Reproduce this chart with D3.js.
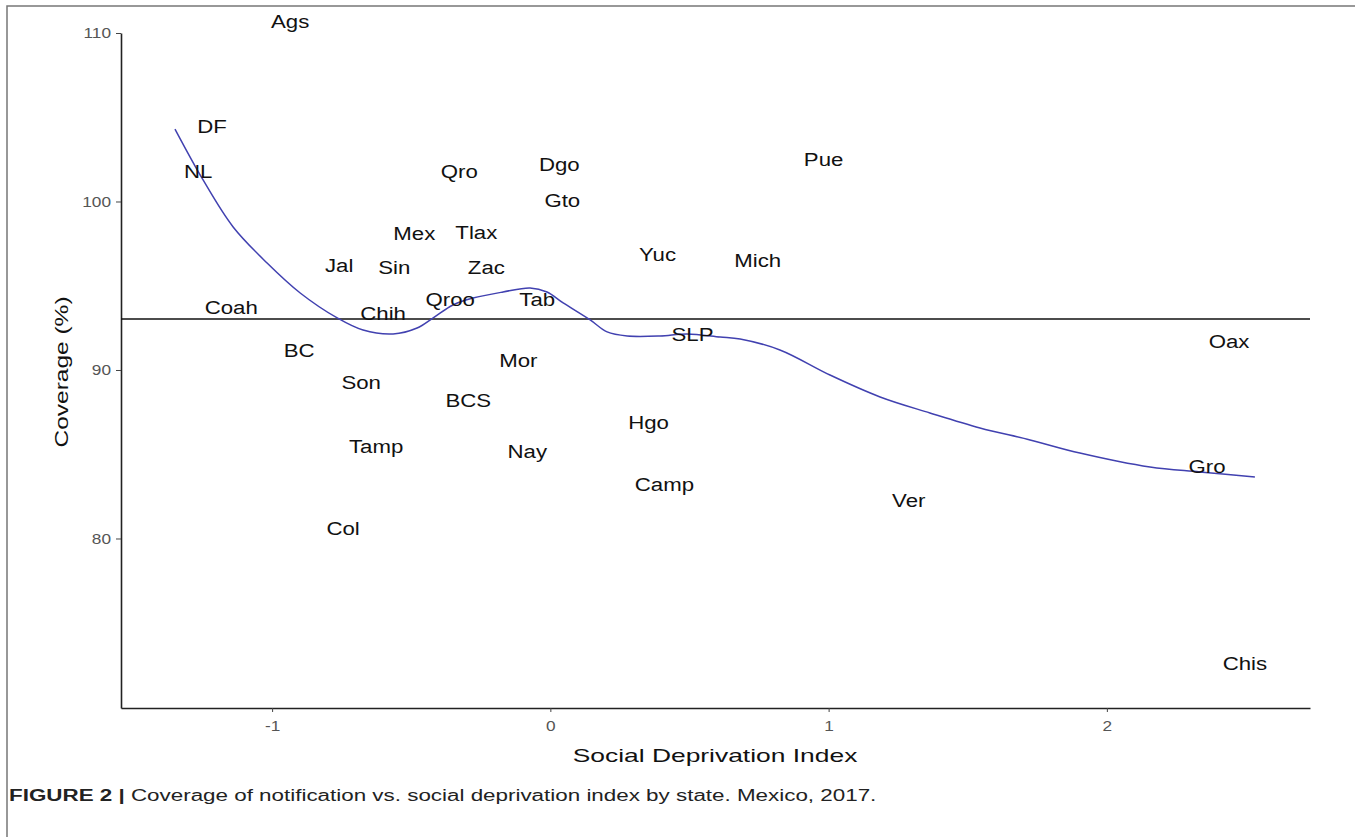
<!DOCTYPE html>
<html>
<head>
<meta charset="utf-8">
<script src="https://cdn.jsdelivr.net/npm/d3@7"></script>
<style>
  body { margin: 0; background: #fff; }
  text { font-family: "Liberation Sans", Arial, sans-serif; }
</style>
</head>
<body>
<span></span>
<script>
let width = 1355;
let height = 837;

// state labels, social deprivation index, coverage (%)
let states = ["Ags", "DF", "NL", "Coah", "BC", "Jal", "Sin", "Mex", "Chih", "Son", "Tamp", "Col",
    "Qro", "Tlax", "Zac", "Qroo", "Tab", "Dgo", "Gto", "Mor", "BCS", "Nay", "Yuc", "Mich",
    "Pue", "SLP", "Hgo", "Camp", "Ver", "Oax", "Gro", "Chis"];
let sdi = [-0.935, -1.216, -1.266, -1.147, -0.903, -0.759, -0.561, -0.489, -0.601, -0.680, -0.626, -0.745,
    -0.327, -0.266, -0.230, -0.360, -0.047, 0.032, 0.043, -0.115, -0.295, -0.083, 0.385, 0.745,
    0.982, 0.511, 0.353, 0.410, 1.288, 2.439, 2.360, 2.496];
let coverage = [110.7, 104.5, 101.8, 93.7, 91.2, 96.2, 96.1, 98.1, 93.4, 89.3, 85.5, 80.6,
    101.8, 98.2, 96.1, 94.2, 94.2, 102.2, 100.1, 90.6, 88.2, 85.2, 96.9, 96.5,
    102.5, 92.1, 86.9, 83.2, 82.3, 91.7, 84.3, 72.6];

// smoothed (loess) curve
let smoothX = [-1.349, -1.248, -1.140, -1.018, -0.899, -0.766, -0.673, -0.565, -0.479, -0.421, -0.350,
    -0.278, -0.170, -0.073, -0.012, 0.046, 0.143, 0.204, 0.276, 0.394, 0.491, 0.610, 0.682,
    0.825, 1.005, 1.185, 1.364, 1.544, 1.724, 1.903, 2.155, 2.334, 2.532];
let smoothY = [104.30, 101.28, 98.49, 96.35, 94.57, 93.09, 92.37, 92.14, 92.49, 93.09, 93.86,
    94.27, 94.63, 94.87, 94.63, 93.98, 92.97, 92.26, 92.02, 92.02, 92.14, 91.96, 91.84,
    91.19, 89.70, 88.40, 87.45, 86.56, 85.85, 85.07, 84.24, 83.95, 83.65];

let refLine = 93.03;
let xTicks = [-1, 0, 1, 2];
let yTicks = [80, 90, 100, 110];

let svg = d3.select("span")
    .append("svg")
    .attr("width", width)
    .attr("height", height)
    .style("display", "block");

// figure frame
svg.append("rect")
    .attr("x", 7).attr("y", 6)
    .attr("width", 1400).attr("height", 900)
    .style("fill", "none")
    .style("stroke", "#777")
    .style("stroke-width", 1.5);

let x = d3.scaleLinear().domain([-1.543, 2.730]).range([121, 1310]);
let y = d3.scaleLinear().domain([69.94, 110]).range([708, 33]);

// the original picture is stretched sideways, so text gets a horizontal scale
function stretched(sel, sx) {
    sel.each(function () {
        let t = d3.select(this);
        let tx = +t.attr("x") || 0;
        let ty = +t.attr("y") || 0;
        t.attr("x", 0).attr("y", 0)
            .attr("transform", `translate(${tx},${ty}) scale(${sx},1)`);
    });
}

// axes
let xAxis = svg.append("g")
    .attr("transform", "translate(0,708)")
    .call(d3.axisBottom(x).tickValues(xTicks).tickFormat((d) => String(d))
        .tickSize(4).tickPadding(8).tickSizeOuter(0));
let yAxis = svg.append("g")
    .attr("transform", "translate(121,0)")
    .call(d3.axisLeft(y).tickValues(yTicks).tickFormat((d) => String(d))
        .tickSize(5).tickPadding(5).tickSizeOuter(0));

[xAxis, yAxis].forEach(function (ax) {
    ax.select(".domain").style("stroke", "#222").style("stroke-width", 1.6);
    ax.selectAll(".tick line").style("stroke", "#444");
    ax.selectAll(".tick text")
        .style("font-family", "'Liberation Sans', Arial, sans-serif")
        .style("font-size", "15px")
        .style("fill", "#555");
});
xAxis.selectAll(".tick text").each(function () {
    d3.select(this).attr("transform", "scale(1.15,1)");
});
yAxis.selectAll(".tick text").each(function () {
    let t = d3.select(this);
    t.attr("transform", `translate(${+t.attr("x")},0) scale(1.15,1)`).attr("x", 0);
});

// horizontal reference line
svg.append("line")
    .attr("x1", x.range()[0]).attr("x2", x.range()[1])
    .attr("y1", y(refLine)).attr("y2", y(refLine))
    .style("stroke", "#111")
    .style("stroke-width", 1.4);

// smooth curve
let curve = smoothX.map((d, i) => ({ x: d, y: smoothY[i] }));
let line = d3.line()
    .x((d) => x(d.x))
    .y((d) => y(d.y))
    .curve(d3.curveCatmullRom.alpha(0.5));
svg.append("path")
    .attr("d", line(curve))
    .style("fill", "none")
    .style("stroke", "#4141b0")
    .style("stroke-width", 1.5);

// state labels
svg.append("g").selectAll("text")
    .data(states)
    .join("text")
    .attr("x", (d, i) => x(sdi[i]))
    .attr("y", (d, i) => y(coverage[i]))
    .attr("dy", "0.36em")
    .attr("text-anchor", "middle")
    .style("font-size", "19px")
    .style("fill", "#111")
    .text((d) => d)
    .call(stretched, 1.17);

// axis titles
svg.append("text")
    .attr("x", 715).attr("y", 762)
    .attr("text-anchor", "middle")
    .style("font-size", "19px")
    .style("fill", "#111")
    .text("Social Deprivation Index")
    .call(stretched, 1.39);

svg.append("text")
    .attr("transform", "translate(68,372) rotate(-90) scale(1.29,1)")
    .attr("text-anchor", "middle")
    .style("font-size", "19px")
    .style("fill", "#111")
    .text("Coverage (%)");

// caption
let caption = svg.append("text")
    .attr("x", 9).attr("y", 801)
    .style("font-size", "16px")
    .style("fill", "#222")
    .call(stretched, 1.4);
caption.append("tspan").style("font-weight", "bold").text("FIGURE 2 | ");
caption.append("tspan").text("Coverage of notification vs. social deprivation index by state. Mexico, 2017.");
</script>
</body>
</html>
